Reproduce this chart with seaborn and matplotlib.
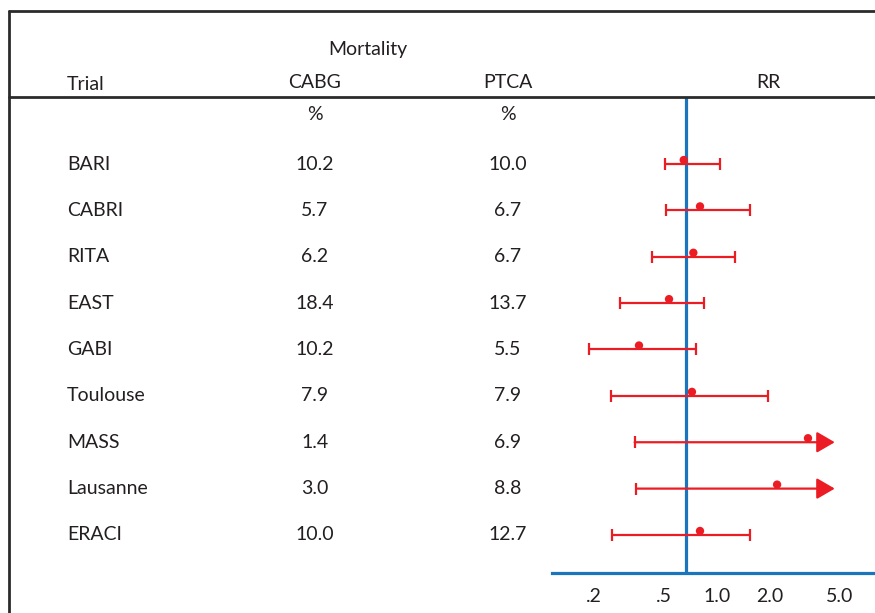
import numpy as np
import pandas as pd
import matplotlib.pyplot as plt
import matplotlib.transforms as mtrans
from matplotlib.lines import Line2D
import seaborn as sns

# Table / forest plot data
trials = ["BARI", "CABRI", "RITA", "EAST", "GABI", "Toulouse", "MASS", "Lausanne", "ERACI"]
cabg_pct = ["10.2", "5.7", "6.2", "18.4", "10.2", "7.9", "1.4", "3.0", "10.0"]
ptca_pct = ["10.0", "6.7", "6.7", "13.7", "5.5", "7.9", "6.9", "8.8", "12.7"]
rr = [0.97, 1.20, 1.10, 0.80, 0.54, 1.08, 4.93, 3.29, 1.20]
ci_low = [0.76, 0.77, 0.64, 0.42, 0.28, 0.375, 0.51, 0.52, 0.38]
ci_high = [1.56, 2.31, 1.90, 1.27, 1.14, 2.92, np.nan, np.nan, 2.31]  # nan = off scale
tick_vals = [0.2, 0.5, 1.0, 2.0, 5.0]
tick_labels = [".2", ".5", "1.0", "2.0", "5.0"]
rr_arrow = 7.0  # open ended intervals drawn as arrows to here

red = "#ec1c24"
blue = "#1a75bc"
ink = "#231f20"
frame = "#2b2b2b"

sns.set_theme(style="white")
plt.rcParams['font.family'] = ['Lato', 'DejaVu Sans']
fs = 14

W, H = 875, 613
fig = plt.figure(figsize=(W / 100, H / 100), dpi=100)
fig.patch.set_facecolor("white")

df = pd.DataFrame({"trial": trials, "rr": rr, "lo": ci_low, "hi": ci_high})
df["row"] = np.arange(len(df))

# forest panel
ax = fig.add_axes([552 / W, (H - 573) / H, (W - 552) / W, (573 - 97) / H])
ax.set_xscale("log")
ax.axvline(1.0, color=blue, lw=2.3, zorder=1)

closed = df[df.hi.notna()]
ax.errorbar(closed.rr, closed.row, xerr=[closed.rr - closed.lo, closed.hi - closed.rr],
            fmt="none", ecolor=red, elinewidth=1.6, capsize=4.4, capthick=1.6, zorder=2)
opened = df[df.hi.isna()]
for _, r in opened.iterrows():
    ax.plot(r.lo, r.row, marker="|", ms=8.8, mew=1.6, color=red, zorder=2)
    ax.annotate("", xy=(rr_arrow, r.row), xytext=(r.lo, r.row),
                arrowprops=dict(arrowstyle="-|>,head_length=0.55,head_width=0.32",
                                color=red, lw=1.6, shrinkA=0, shrinkB=0,
                                mutation_scale=20), zorder=2)

sns.scatterplot(data=df, x="rr", y="row", color=red, s=36, edgecolor="none",
                ax=ax, zorder=3, legend=False)
# dots sit a little above the interval line
ax.collections[-1].set_offset_transform(
    ax.transData + mtrans.ScaledTranslation(0, 0.04, fig.dpi_scale_trans))

ax.set_xlim(0.173, 11.85)
ax.set_ylim(8.82, -1.445)
ax.set_xlabel("")
ax.set_ylabel("")
ax.set_yticks([])
ax.set_xticks(tick_vals)
ax.set_xticklabels(tick_labels, fontsize=fs, color=ink)
ax.minorticks_off()
ax.tick_params(axis="x", length=0, pad=11)
for lab in ax.get_xticklabels():
    lab.set_transform(lab.get_transform() + mtrans.ScaledTranslation(0.31, 0, fig.dpi_scale_trans))
for s in ["top", "right", "left"]:
    ax.spines[s].set_visible(False)
ax.spines["bottom"].set_color(blue)
ax.spines["bottom"].set_linewidth(2.3)
ax.patch.set_alpha(0)

# table text, rows follow the forest rows
rowtr = mtrans.blended_transform_factory(fig.transFigure, ax.transData)
for i, name in enumerate(trials):
    ax.text(67 / W, i, name, transform=rowtr, ha="left", va="center",
            fontsize=fs, color=ink, clip_on=False)
    ax.text(315 / W, i, cabg_pct[i], transform=rowtr, ha="center", va="center",
            fontsize=fs, color=ink, clip_on=False)
    ax.text(508 / W, i, ptca_pct[i], transform=rowtr, ha="center", va="center",
            fontsize=fs, color=ink, clip_on=False)

# headers
def ftext(x, y, s, ha="center"):
    fig.text(x / W, 1 - y / H, s, ha=ha, va="center", fontsize=fs, color=ink)

ftext(368, 50, "Mortality")
ftext(67, 84, "Trial", ha="left")
ftext(315, 82, "CABG")
ftext(508, 82, "PTCA")
ftext(768, 82, "RR")
ftext(315, 115, "%")
ftext(508, 115, "%")

# frame lines
fig.add_artist(Line2D([9 / W, 1], [1 - 11 / H, 1 - 11 / H], color=frame, lw=2, transform=fig.transFigure))
fig.add_artist(Line2D([9 / W, 9 / W], [1 - 11 / H, 0], color=frame, lw=2, transform=fig.transFigure))
fig.add_artist(Line2D([9 / W, 1], [1 - 97 / H, 1 - 97 / H], color=frame, lw=2, transform=fig.transFigure))

fig.savefig("out.png", dpi=100)
